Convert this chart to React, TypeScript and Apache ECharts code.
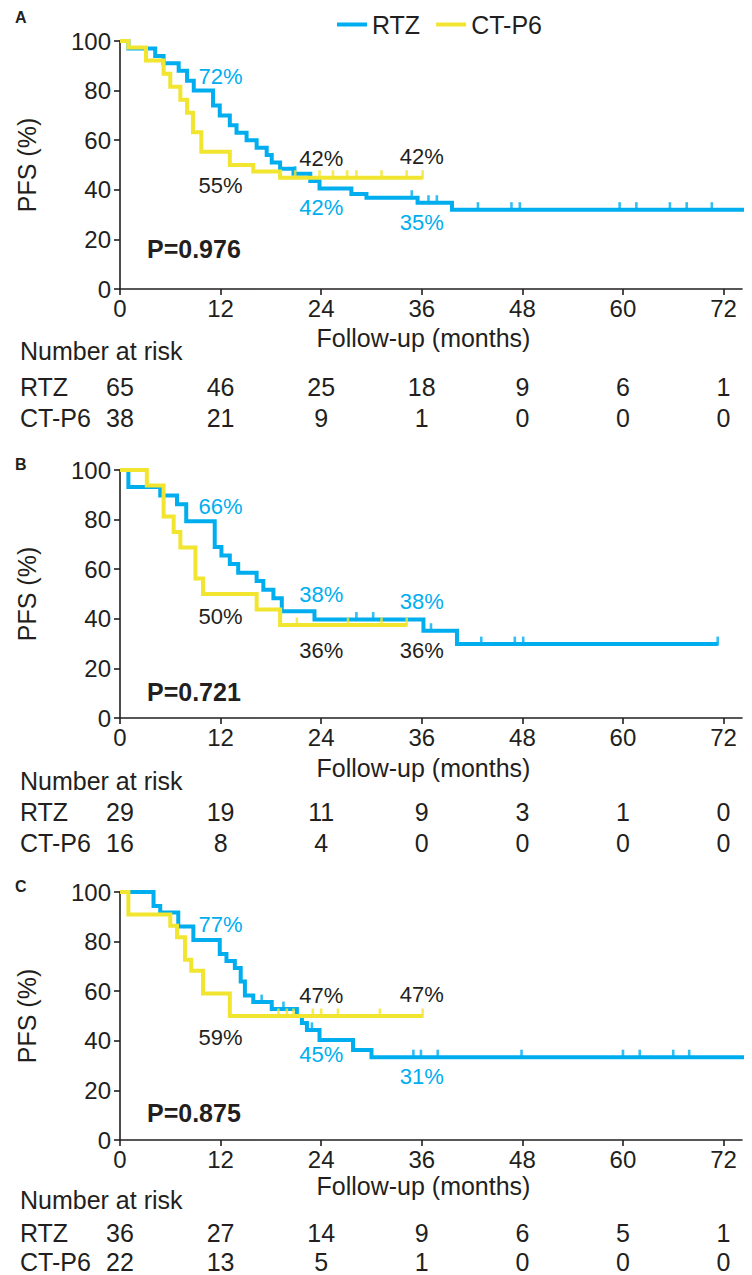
import React, { useEffect, useRef } from "react";
import * as echarts from "echarts";

// ---------------- data ----------------
const monthTicks = [0, 12, 24, 36, 48, 60, 72];
const groupNames = ["RTZ", "CT-P6"];
const panelLetters = ["A", "B", "C"];
const pValues = ["P=0.976", "P=0.721", "P=0.875"];
const xTitle = "Follow-up (months)";
const yTitle = "PFS (%)";
const riskTitle = "Number at risk";

// Kaplan-Meier step points [month, PFS %] (value after the event)
const rtzA = [[0, 100], [1.0, 97], [4.2, 94], [5.2, 91], [7.0, 88], [8.0, 84], [8.8, 80], [11.1, 74], [11.9, 70], [13.1, 66], [13.9, 63], [15.1, 60], [16.3, 57], [17.5, 54], [18.1, 51], [19.1, 48.5], [20.7, 46.5], [22.7, 43.5], [23.8, 40.5], [27.6, 38.3], [29.4, 36.8], [35.5, 34.8], [39.6, 32], [75.3, 32]];
const ctA = [[0, 100], [1.0, 97.4], [3.1, 92.1], [5.2, 86.8], [6.0, 81.6], [7.2, 76.3], [8.0, 71.1], [8.7, 63.2], [9.7, 55.3], [13.1, 50], [15.9, 47.4], [19.1, 44.9], [36.1, 44.9]];
const rtzCensA = [20.9, 34.8, 36.8, 37.8, 42.7, 46.7, 47.7, 59.6, 61.6, 65.6, 67.6, 70.6];
const ctCensA = [20.9, 23.8, 25.4, 27.1, 28.2, 31.2, 34.2, 36.1];

const rtzB = [[0, 100], [1.0, 93.1], [4.8, 89.7], [6.8, 86.2], [7.9, 79.3], [11.3, 69], [12.1, 65.5], [13.1, 62.1], [14.1, 58.6], [16.3, 55.2], [17.1, 51.7], [18.3, 48.3], [19.3, 43], [23.2, 39.7], [36.2, 35.2], [40.2, 29.8], [71.3, 29.8]];
const ctB = [[0, 100], [3.2, 93.75], [5.2, 81.25], [6.4, 75], [7.2, 68.75], [9.0, 56.25], [9.9, 50], [16.3, 43.75], [19.1, 37.5], [34.2, 37.5]];
const rtzCensB = [28.2, 30.2, 37.1, 43.1, 47.1, 48.1, 71.3];
const ctCensB = [21.1, 27.2, 31.2, 34.2];

const rtzC = [[0, 100], [4.0, 94.4], [4.8, 91.7], [6.95, 86.1], [8.75, 80.6], [11.9, 75], [12.7, 72.2], [13.7, 69.4], [14.4, 63.9], [14.9, 58.3], [15.9, 55.6], [18.1, 52.8], [21.1, 50], [21.7, 47.2], [22.3, 44.4], [23.8, 40.3], [27.8, 36.3], [30.0, 33.4], [75.3, 33.4]];
const ctC = [[0, 100], [1.0, 90.9], [6.0, 86.4], [6.8, 81.8], [7.75, 72.7], [8.5, 68.2], [9.9, 59.1], [13.1, 50], [36.1, 50]];
const rtzCensC = [16.9, 19.5, 22.9, 35.0, 35.9, 37.9, 47.9, 60.0, 62.0, 66.0, 67.9];
const ctCensC = [18.9, 19.9, 20.7, 23.0, 24.0, 26.0, 31.0, 36.1];

// number at risk
const riskRtzA = [65, 46, 25, 18, 9, 6, 1];
const riskCtA = [38, 21, 9, 1, 0, 0, 0];
const riskRtzB = [29, 19, 11, 9, 3, 1, 0];
const riskCtB = [16, 8, 4, 0, 0, 0, 0];
const riskRtzC = [36, 27, 14, 9, 6, 5, 1];
const riskCtC = [22, 13, 5, 1, 0, 0, 0];

// survival estimates quoted at 12, 24, 36 months
const pctMonths = [12, 24, 36];
const rtzPctA = ["72%", "42%", "35%"];
const ctPctA = ["55%", "42%", "42%"];
const rtzPctB = ["66%", "38%", "38%"];
const ctPctB = ["50%", "36%", "36%"];
const rtzPctC = ["77%", "45%", "31%"];
const ctPctC = ["59%", "47%", "47%"];

// ---------------- styles / layout ----------------
const BLUE = "#00AEEF";
const YELLOW = "#F2E530";
const INK = "#231F20";
const FONT = "'Liberation Sans', Arial, Helvetica, sans-serif";

const L = {
  W: 752,
  H: 1275,
  gridLeft: 120,
  gridWidth: 622,
  gridHeight: 248,
  gridTops: [41, 470, 892],
  xMax: 74.2,
  riskOffsets: [[62, 98, 129], [63, 93.5, 124.5], [60, 93, 122]],
  titleOffsets: [49, 50, 46],
  xTitleMonth: 36.2,
  pValueX: 147,
  pValueY: [249, 692, 1112.5],
  letterX: 15,
  letterY: [17.5, 464, 886],
  yTitleX: 27,
  rowLabelX: 20,
  // label anchor values (y, in % units) for annotations: [rtz[], ct[]]
  pctAnchors: [
    [[85.5, 32.7, 27.0], [41.9, 52.8, 53.6]],
    [[85.2, 49.6, 46.9], [40.8, 27.4, 27.4]],
    [[86.7, 34.3, 25.5], [41.3, 58.1, 58.5]],
  ],
};

const panels = [
  { rtz: rtzA, ct: ctA, cens: [rtzCensA, ctCensA], risk: [riskRtzA, riskCtA], pct: [rtzPctA, ctPctA] },
  { rtz: rtzB, ct: ctB, cens: [rtzCensB, ctCensB], risk: [riskRtzB, riskCtB], pct: [rtzPctB, ctPctB] },
  { rtz: rtzC, ct: ctC, cens: [rtzCensC, ctCensC], risk: [riskRtzC, riskCtC], pct: [rtzPctC, ctPctC] },
];

function valueAt(curve: number[][], t: number): number {
  let v = curve[0][1];
  for (const [m, val] of curve) {
    if (m <= t + 1e-9) v = val;
    else break;
  }
  return v;
}

function txt(x: number, y: number, text: string, o: any = {}) {
  const align = o.align || "center";
  return {
    type: "text",
    x,
    y,
    rotation: o.rotation || 0,
    silent: true,
    style: {
      text,
      fill: o.color || INK,
      fontSize: o.size || 24,
      fontFamily: FONT,
      fontWeight: o.weight || "normal",
      align,
      verticalAlign: "middle",
      textAlign: align,
      textVerticalAlign: "middle",
    },
  };
}

export default function App() {
  const ref = useRef<HTMLDivElement>(null);

  useEffect(() => {
    if (!ref.current) return;
    const chart = echarts.init(ref.current, null, { renderer: "svg" });

    const axisColor = "#231F20";
    const grid = L.gridTops.map((top) => ({
      left: L.gridLeft,
      top,
      width: L.gridWidth,
      height: L.gridHeight,
      containLabel: false,
    }));
    const xAxis = L.gridTops.map((_, i) => ({
      type: "value",
      gridIndex: i,
      min: 0,
      max: L.xMax,
      interval: 12,
      splitLine: { show: false },
      axisLine: { show: true, onZero: false, lineStyle: { color: axisColor, width: 1.6 } },
      axisTick: { show: true, inside: false, length: 6, customValues: monthTicks, lineStyle: { color: axisColor, width: 1.6 } },
      axisLabel: { show: true, customValues: monthTicks, fontSize: 24, color: INK, fontFamily: FONT, margin: 7 },
    }));
    const yAxis = L.gridTops.map((_, i) => ({
      type: "value",
      gridIndex: i,
      min: 0,
      max: 100,
      interval: 20,
      splitLine: { show: false },
      axisLine: { show: true, onZero: false, lineStyle: { color: axisColor, width: 1.6 } },
      axisTick: { show: true, inside: false, length: 6, lineStyle: { color: axisColor, width: 1.6 } },
      axisLabel: { fontSize: 24, color: INK, fontFamily: FONT, margin: 9 },
    }));

    const series: any[] = [];
    panels.forEach((p, i) => {
      const curves = [p.rtz, p.ct];
      const colors = [BLUE, YELLOW];
      curves.forEach((c, g) => {
        series.push({
          type: "line",
          name: groupNames[g],
          xAxisIndex: i,
          yAxisIndex: i,
          data: c,
          step: "end",
          showSymbol: false,
          symbol: "none",
          clip: false,
          z: 2 + g,
          color: colors[g],
          itemStyle: { color: colors[g] },
          lineStyle: { color: colors[g], width: 4, join: "miter", cap: "butt" },
          silent: true,
        });
      });
      curves.forEach((c, g) => {
        series.push({
          type: "scatter",
          name: groupNames[g] + " censored",
          xAxisIndex: i,
          yAxisIndex: i,
          data: p.cens[g].map((t) => [t, valueAt(c, t)]),
          symbol: "rect",
          symbolSize: [2.6, 9],
          symbolOffset: [0, -3],
          clip: false,
          z: 2 + g,
          itemStyle: { color: colors[g] },
          silent: true,
        });
      });
    });

    const option: any = {
      animation: false,
      backgroundColor: "#ffffff",
      color: [BLUE, YELLOW],
      legend: {
        data: [
          { name: "RTZ", icon: "rect" },
          { name: "CT-P6", icon: "rect" },
        ],
        left: 332,
        top: 7,
        itemWidth: 30,
        itemHeight: 4,
        itemGap: 16,
        selectedMode: false,
        textStyle: { fontSize: 25, color: INK, fontFamily: FONT },
      },
      grid,
      xAxis,
      yAxis,
      series,
    };
    chart.setOption(option);

    // texts placed through the axes' own scales
    const els: any[] = [];
    panels.forEach((p, i) => {
      const top = L.gridTops[i];
      const axisY = top + L.gridHeight;
      els.push(txt(L.letterX, L.letterY[i], panelLetters[i], { size: 16, weight: "bold", align: "left" }));
      els.push(txt(L.yTitleX, top + L.gridHeight / 2, yTitle, { size: 25, rotation: Math.PI / 2 }));
      const [xt] = chart.convertToPixel({ gridIndex: i }, [L.xTitleMonth, 0]) as number[];
      els.push(txt(xt, axisY + L.titleOffsets[i], xTitle, { size: 25 }));
      els.push(txt(L.pValueX, L.pValueY[i], pValues[i], { size: 25, weight: "bold", align: "left" }));
      const off = L.riskOffsets[i];
      els.push(txt(L.rowLabelX, axisY + off[0], riskTitle, { size: 25, align: "left" }));
      groupNames.forEach((g, gi) => {
        const y = axisY + off[gi + 1];
        els.push(txt(L.rowLabelX, y, g, { size: 25, align: "left" }));
        p.risk[gi].forEach((n, k) => {
          const [px] = chart.convertToPixel({ gridIndex: i }, [monthTicks[k], 0]) as number[];
          els.push(txt(px, y, String(n), { size: 25 }));
        });
      });
      [0, 1].forEach((gi) => {
        p.pct[gi].forEach((label, k) => {
          const [px, py] = chart.convertToPixel({ gridIndex: i }, [pctMonths[k], L.pctAnchors[i][gi][k]]) as number[];
          els.push(txt(px, py, label, { size: 22, color: gi === 0 ? BLUE : INK }));
        });
      });
    });
    chart.setOption({ graphic: { elements: els } });

    return () => chart.dispose();
  }, []);

  return (
    <div
      ref={ref}
      style={{ position: "absolute", left: 0, top: 0, width: L.W, height: L.H, background: "#fff" }}
    />
  );
}
